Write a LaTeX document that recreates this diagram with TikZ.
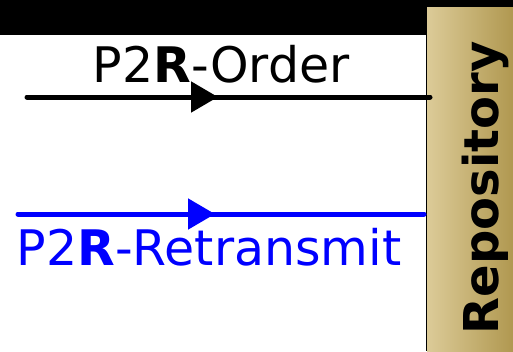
\documentclass[tikz,border=0pt]{standalone}
\usepackage{fontspec}
\setmainfont{DejaVu Sans}
\usetikzlibrary{arrows.meta}
\definecolor{repoLight}{HTML}{DCCB98}
\definecolor{repoDark}{HTML}{B09850}
\definecolor{msgBlue}{HTML}{0000FF}

\begin{document}
\begin{tikzpicture}[x=1pt, y=-1pt,
        flow/.style={line width=5pt, line cap=round},
        tip/.style={-{Triangle[length=27pt, width=30pt]}, line width=5pt},
        lbl/.style={font=\fontsize{49}{54}\selectfont, anchor=base, inner sep=0pt}]
        \useasboundingbox (0,0) rectangle (513,351);
        % header band and repository column
        \fill[black] (0,0) rectangle (427,35);
        \shade[left color=repoLight, right color=repoDark] (427,0) rectangle (513,351);
        \fill[black] (427,0) rectangle (513,7);
        \draw[black, line width=1.5pt] (426.5,0) -- (426.5,351);
        \node[lbl, font=\fontsize{48}{52}\selectfont\bfseries, rotate=90] (repo) at (498,188) {Repository};
        % order channel
        \coordinate (o1) at (27,97);
        \coordinate (om) at (218,97);
        \coordinate (o2) at (430,97);
        \draw[flow] (o1) -- (o2);
        \draw[tip] (o1) -- (om);
        \node[lbl] (order) at (221,82) {P2\textbf{R}-Order};
        % retransmit channel
        \coordinate (r1) at (18,214);
        \coordinate (rm) at (215,214);
        \coordinate (r2) at (424,214);
        \draw[flow, msgBlue] (r1) -- (r2);
        \draw[tip, msgBlue] (r1) -- (rm);
        \node[lbl, msgBlue] (retr) at (209,265) {P2\textbf{R}-Retransmit};
    \end{tikzpicture}
\end{document}
